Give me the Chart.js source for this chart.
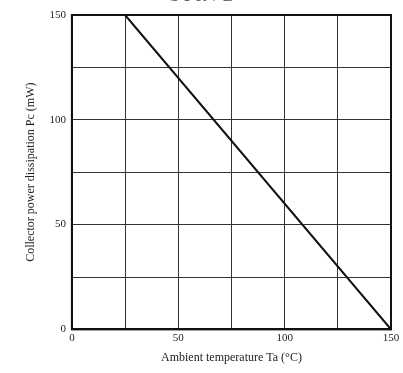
<!DOCTYPE html>
<html>
<head>
<meta charset="utf-8">
<script src="https://cdn.jsdelivr.net/npm/chart.js@4/dist/chart.umd.min.js"></script>
<style>
  html, body { margin: 0; padding: 0; background: #fff; }
  #wrap { position: relative; width: 403px; height: 373px; overflow: hidden; }
  #cut { position: absolute; top: -13px; left: 0; width: 403px; text-align: center;
         font-family: 'Liberation Serif', serif; font-size: 16px; color: #555; letter-spacing: 3px; }
</style>
</head>
<body>
<div id="wrap">
  <div id="cut">CURVE</div>
  <canvas id="chart-derating" width="403" height="373"></canvas>
</div>
<script>
// ambient temperature (°C) and allowed power (mW)
let tempC = [0, 25, 150];
let powerMw = [150, 150, 0];
let tickLabels = [0, 50, 100, 150];

let serif = "'Liberation Serif', 'Times New Roman', serif";

let ctx = document.getElementById('chart-derating').getContext('2d');

let deratingChart = new Chart(ctx, {
    type: 'scatter',
    data: {
        datasets: [{
            data: tempC.map((t, i) => ({ x: t, y: powerMw[i] })),
            showLine: true,
            borderColor: '#111',
            borderWidth: 2,
            pointRadius: 0,
            tension: 0
        }]
    },
    options: {
        responsive: false,
        animation: false,
        layout: { padding: { top: 15, right: 12, left: 20, bottom: 6 } },
        plugins: { legend: { display: false }, tooltip: { enabled: false } },
        scales: {
            x: {
                type: 'linear', min: 0, max: 150,
                border: { color: '#111', width: 2 },
                grid: { color: '#333', lineWidth: 1, drawTicks: false },
                ticks: {
                    stepSize: 25, padding: 2, color: '#222',
                    font: { family: serif, size: 11 },
                    callback: v => tickLabels.includes(v) ? v : ''
                },
                title: {
                    display: true, text: 'Ambient temperature Ta (°C)', color: '#222',
                    font: { family: serif, size: 12 }, padding: { top: 4, bottom: 2 }
                }
            },
            y: {
                min: 0, max: 150,
                border: { color: '#111', width: 2 },
                grid: { color: '#333', lineWidth: 1, drawTicks: false },
                ticks: {
                    stepSize: 25, padding: 6, color: '#222',
                    font: { family: serif, size: 11 },
                    callback: v => tickLabels.includes(v) ? v : ''
                },
                title: {
                    display: true, text: 'Collector power dissipation Pc (mW)', color: '#222',
                    font: { family: serif, size: 12 }, padding: { top: 4, bottom: 5 }
                }
            }
        }
    },
    plugins: [{
        // closed frame like the printed graph
        id: 'frame',
        afterDraw(chart) {
            let a = chart.chartArea;
            let c = chart.ctx;
            c.save();
            c.strokeStyle = '#111';
            c.lineWidth = 2;
            c.strokeRect(a.left, a.top, a.right - a.left, a.bottom - a.top);
            c.restore();
        }
    }]
});
</script>
</body>
</html>
